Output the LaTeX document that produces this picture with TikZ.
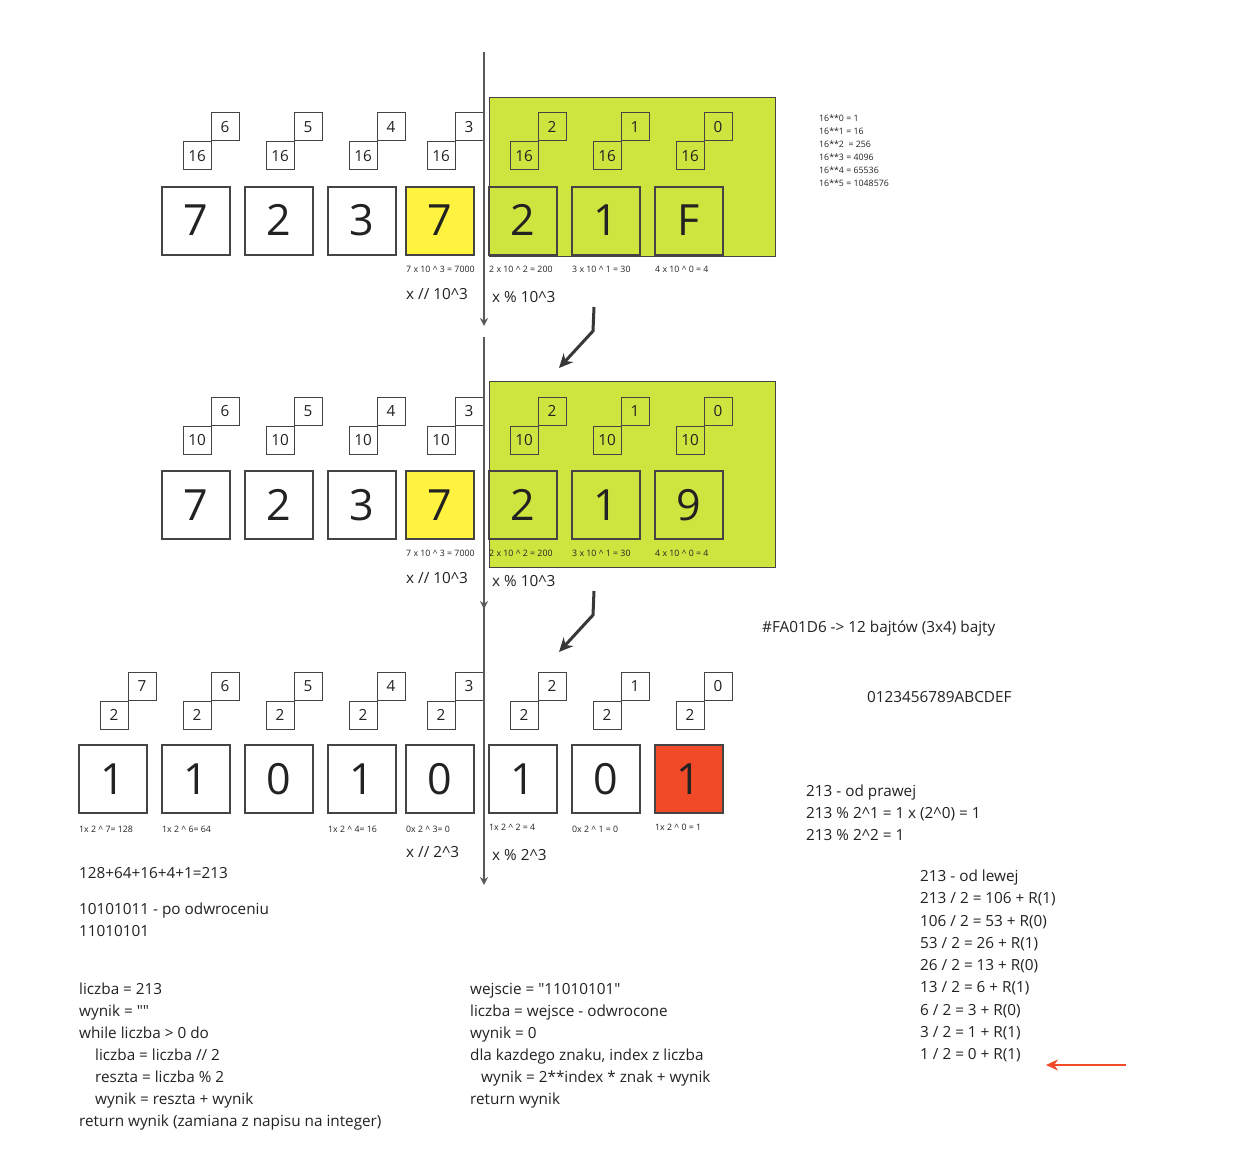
\documentclass[tikz,border=0pt]{standalone}
\usepackage{fontspec}
\setmainfont{Open Sans}[Ligatures=TeXOff]
\usetikzlibrary{arrows.meta}
\definecolor{boxgreen}{HTML}{CEE540}
\definecolor{boxyellow}{HTML}{FFF33F}
\definecolor{boxred}{HTML}{F04A28}
\definecolor{boxline}{HTML}{444444}
\definecolor{textcol}{HTML}{222222}
\definecolor{vlinecol}{HTML}{5A5A5A}
\definecolor{arrowred}{HTML}{F04A28}
\newcommand{\hatc}{\textasciicircum}
\begin{document}
\begin{tikzpicture}[x=1pt,y=-1pt,
  bigbox/.style={draw=boxline, line width=1.4pt, minimum size=68pt, inner sep=0pt,
    font=\fontsize{43}{43}\selectfont, text=textcol, text height=30pt, text depth=0pt},
  smallbox/.style={draw=boxline, line width=1pt, minimum size=28pt, inner sep=0pt, fill=white,
    font=\fontsize{15.3}{15}\selectfont, text=textcol, text height=10.2pt, text depth=0pt},
  greensmall/.style={smallbox, fill=none},
  greenarea/.style={draw=boxline, line width=1pt, fill=boxgreen},
  lbl/.style={anchor=base west, inner sep=0pt, font=\fontsize{8.8}{10}\selectfont, text=textcol},
  tiny/.style={anchor=base west, inner sep=0pt, font=\fontsize{8.8}{10}\selectfont, text=textcol},
  txt/.style={anchor=base west, inner sep=0pt, font=\fontsize{15.3}{18}\selectfont, text=textcol},
  vline/.style={draw=vlinecol, line width=1.6pt, -{Stealth[length=8pt,width=8pt]}},
  bentarrow/.style={draw=textcol!90, line width=3pt, -{Stealth[length=14pt,width=13pt]}},
  redarrow/.style={draw=arrowred, line width=2.5pt, -{Stealth[length=12pt,width=11pt]}}
]
\useasboundingbox[fill=white] (0,0) rectangle (1246,1166);

% green areas
\node[greenarea, minimum width=286pt, minimum height=159pt, inner sep=0pt, anchor=north west] (g1) at (489,97) {};
\node[greenarea, minimum width=286pt, minimum height=186pt, inner sep=0pt, anchor=north west] (g2) at (489,381) {};

% row 1
\foreach \n/\x/\d/\e/\f/\s in {1/162/7/6/white/smallbox, 2/245/2/5/white/smallbox, 3/328/3/4/white/smallbox, 4/406/7/3/boxyellow/smallbox, 5/489/2/2/none/greensmall, 6/572/1/1/none/greensmall, 7/655/F/0/none/greensmall}{
  \node[bigbox, fill=\f] (ra\n) at (\x+34,221) {\d};
  \node[\s] (rab\n) at (\x+35,156) {16};
  \node[\s] (rae\n) at (\x+63,127) {\e};
}
% row 2
\foreach \n/\x/\d/\e/\f/\s in {1/162/7/6/white/smallbox, 2/245/2/5/white/smallbox, 3/328/3/4/white/smallbox, 4/406/7/3/boxyellow/smallbox, 5/489/2/2/none/greensmall, 6/572/1/1/none/greensmall, 7/655/9/0/none/greensmall}{
  \node[bigbox, fill=\f] (rb\n) at (\x+34,505) {\d};
  \node[\s] (rbb\n) at (\x+35,440) {10};
  \node[\s] (rbe\n) at (\x+63,411) {\e};
}
% row 3
\foreach \n/\x/\d/\e/\f in {1/79/1/7/white, 2/162/1/6/white, 3/245/0/5/white, 4/328/1/4/white, 5/406/0/3/white, 6/489/1/2/white, 7/572/0/1/white, 8/655/1/0/boxred}{
  \node[bigbox, fill=\f] (rc\n) at (\x+34,779) {\d};
  \node[smallbox] (rcb\n) at (\x+35,715) {2};
  \node[smallbox] (rce\n) at (\x+63,686) {\e};
}

% vertical dividing lines
\coordinate (v1s) at (484,52); \coordinate (v1e) at (484,326);
\coordinate (v2s) at (484,337); \coordinate (v2e) at (484,609);
\coordinate (v3s) at (484,606); \coordinate (v3e) at (484,885);
\draw[vline] (v1s) -- (v1e);
\draw[vline] (v2s) -- (v2e);
\draw[vline] (v3s) -- (v3e);

% bent arrows
\coordinate (b1s) at (594,307); \coordinate (b1m) at (593,331); \coordinate (b1e) at (559,368);
\coordinate (b2s) at (594,591); \coordinate (b2m) at (593,615); \coordinate (b2e) at (559,652);
\draw[bentarrow] (b1s) -- (b1m) -- (b1e);
\draw[bentarrow] (b2s) -- (b2m) -- (b2e);

% red arrow
\coordinate (ras) at (1126,1065); \coordinate (rae) at (1046,1065);
\draw[redarrow] (ras) -- (rae);

% labels row 1
\node[lbl] (l11) at (406,272) {7 x 10 \hatc{} 3 = 7000};
\node[lbl] (l12) at (489,272) {2 x 10 \hatc{} 2 = 200};
\node[lbl] (l13) at (572,272) {3 x 10 \hatc{} 1 = 30};
\node[lbl] (l14) at (655,272) {4 x 10 \hatc{} 0 = 4};
\node[txt] (d1) at (406,299) {x // 10\hatc{}3};
\node[txt] (m1) at (492,302) {x \% 10\hatc{}3};
% labels row 2
\node[lbl] (l21) at (406,556) {7 x 10 \hatc{} 3 = 7000};
\node[lbl] (l22) at (489,556) {2 x 10 \hatc{} 2 = 200};
\node[lbl] (l23) at (572,556) {3 x 10 \hatc{} 1 = 30};
\node[lbl] (l24) at (655,556) {4 x 10 \hatc{} 0 = 4};
\node[txt] (d2) at (406,583) {x // 10\hatc{}3};
\node[txt] (m2) at (492,586) {x \% 10\hatc{}3};
% labels row 3
\node[lbl] (l31) at (79,832) {1x 2 \hatc{} 7= 128};
\node[lbl] (l32) at (162,832) {1x 2 \hatc{} 6= 64};
\node[lbl] (l34) at (328,832) {1x 2 \hatc{} 4= 16};
\node[lbl] (l35) at (406,832) {0x 2 \hatc{} 3= 0};
\node[lbl] (l36) at (489,830) {1x 2 \hatc{} 2 = 4};
\node[lbl] (l37) at (572,832) {0x 2 \hatc{} 1 = 0};
\node[lbl] (l38) at (655,830) {1x 2 \hatc{} 0 = 1};
\node[txt] (d3) at (406,857) {x // 2\hatc{}3};
\node[txt] (m3) at (492,860) {x \% 2\hatc{}3};

% powers of 16
\node[tiny] (p0) at (819,122) {16**0 = 1};
\node[tiny] (p1) at (819,135) {16**1 = 16};
\node[tiny] (p2) at (819,148) {16**2 \ = 256};
\node[tiny] (p3) at (819,161) {16**3 = 4096};
\node[tiny] (p4) at (819,174) {16**4 = 65536};
\node[tiny] (p5) at (819,187) {16**5 = 1048576};

% right notes
\node[txt] (n1) at (762,632.5) {\#FA01D6 -> 12 bajtów (3x4) bajty};
\node[txt] (n2) at (867,702.5) {0123456789ABCDEF};
\node[txt] (n3) at (806,796.5) {213 - od prawej};
\node[txt] (n4) at (806,818.5) {213 \% 2\hatc{}1 = 1 x (2\hatc{}0) = 1};
\node[txt] (n5) at (806,840.5) {213 \% 2\hatc{}2 = 1};

\foreach \t [count=\i] in {{213 - od lewej}, {213 / 2 = 106 + R(1)}, {106 / 2 = 53 + R(0)}, {53 / 2 = 26 + R(1)}, {26 / 2 = 13 + R(0)}, {13 / 2 = 6 + R(1)}, {6 / 2 = 3 + R(0)}, {3 / 2 = 1 + R(1)}, {1 / 2 = 0 + R(1)}}{
  \node[txt] (ol\i) at (920,{876+(\i-1)*22.25+5.5}) {\t};
}

% left notes
\node[txt] (s1) at (79,878.5) {128+64+16+4+1=213};
\node[txt] (s2) at (79,914.5) {10101011 - po odwroceniu};
\node[txt] (s3) at (79,936.5) {11010101};

% left code
\node[txt] (c1) at (79,994.5) {liczba = 213};
\node[txt] (c2) at (79,1016.5) {wynik = ""};
\node[txt] (c3) at (79,1038.5) {while liczba > 0 do};
\node[txt] (c4) at (95,1060.5) {liczba = liczba // 2};
\node[txt] (c5) at (95,1082.5) {reszta = liczba \% 2};
\node[txt] (c6) at (95,1104.5) {wynik = reszta + wynik};
\node[txt] (c7) at (79,1126.5) {return wynik (zamiana z napisu na integer)};

% middle code
\node[txt] (k1) at (470,994.5) {wejscie = "11010101"};
\node[txt] (k2) at (470,1016.5) {liczba = wejsce - odwrocone};
\node[txt] (k3) at (470,1038.5) {wynik = 0};
\node[txt] (k4) at (470,1060.5) {dla kazdego znaku, index z liczba};
\node[txt] (k5) at (481,1082.5) {wynik = 2**index * znak + wynik};
\node[txt] (k6) at (470,1104.5) {return wynik};
\end{tikzpicture}
\end{document}
